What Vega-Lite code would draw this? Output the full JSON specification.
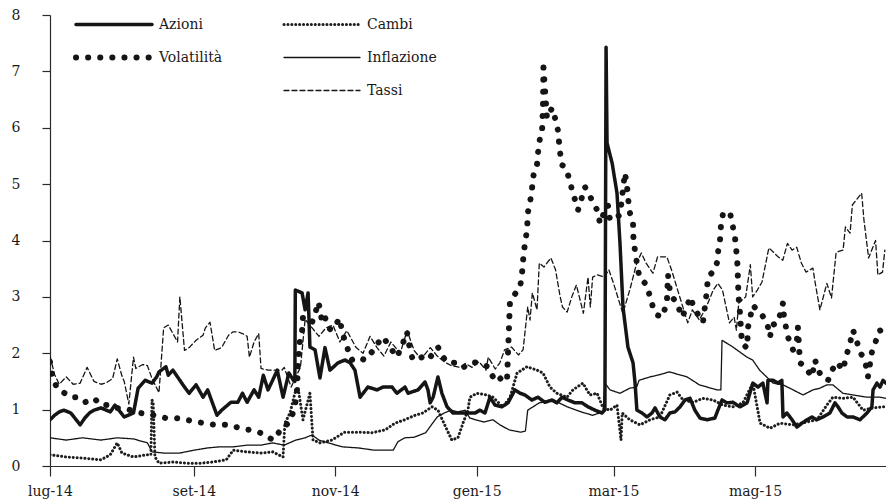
{
"$schema":"https://vega.github.io/schema/vega-lite/v6.json",
"width":836,"height":451,
"autosize":{"type":"none"},
"padding":{"left":50,"top":15,"right":0,"bottom":37},
"background":"white",
"config":{"view":{"stroke":null},"font":"DejaVu Serif",
 "axis":{"grid":false,"title":null,"domainColor":"#2b2b2b","tickColor":"#2b2b2b","labelColor":"#1a1a1a","labelFont":"DejaVu Serif","labelFontSize":14,"domainWidth":1.2,"tickWidth":1.2}},
"data":{"values":[
{"s":"Cambi","d":"2014-07-01","v":0.2},{"s":"Cambi","d":"2014-07-08","v":0.16},{"s":"Cambi","d":"2014-07-15","v":0.14},{"s":"Cambi","d":"2014-07-23","v":0.11},{"s":"Cambi","d":"2014-07-27","v":0.2},{"s":"Cambi","d":"2014-07-30","v":0.41},{"s":"Cambi","d":"2014-08-01","v":0.23},{"s":"Cambi","d":"2014-08-06","v":0.16},{"s":"Cambi","d":"2014-08-12","v":0.2},{"s":"Cambi","d":"2014-08-13T12:00Z","v":0.2},{"s":"Cambi","d":"2014-08-14","v":1.17},{"s":"Cambi","d":"2014-08-14T12:00Z","v":1.1},{"s":"Cambi","d":"2014-08-15T06:00Z","v":0.16},{"s":"Cambi","d":"2014-08-17","v":0.05},{"s":"Cambi","d":"2014-08-23","v":0.07},{"s":"Cambi","d":"2014-08-29","v":0.05},{"s":"Cambi","d":"2014-09-04","v":0.05},{"s":"Cambi","d":"2014-09-09","v":0.07},{"s":"Cambi","d":"2014-09-15","v":0.11},{"s":"Cambi","d":"2014-09-18","v":0.28},{"s":"Cambi","d":"2014-09-24","v":0.25},{"s":"Cambi","d":"2014-09-30","v":0.23},{"s":"Cambi","d":"2014-10-05","v":0.25},{"s":"Cambi","d":"2014-10-09T12:00Z","v":0.16},{"s":"Cambi","d":"2014-10-10T07:00Z","v":0.76},{"s":"Cambi","d":"2014-10-12T12:00Z","v":0.94},{"s":"Cambi","d":"2014-10-14T14:00Z","v":1.29},{"s":"Cambi","d":"2014-10-15T22:00Z","v":1.4},{"s":"Cambi","d":"2014-10-18T02:00Z","v":0.82},{"s":"Cambi","d":"2014-10-21T02:00Z","v":1.29},{"s":"Cambi","d":"2014-10-22T10:00Z","v":0.46},{"s":"Cambi","d":"2014-10-25T10:00Z","v":0.41},{"s":"Cambi","d":"2014-10-30T14:00Z","v":0.46},{"s":"Cambi","d":"2014-11-05","v":0.6},{"s":"Cambi","d":"2014-11-10T19:00Z","v":0.6},{"s":"Cambi","d":"2014-11-16T19:00Z","v":0.59},{"s":"Cambi","d":"2014-11-22T12:00Z","v":0.64},{"s":"Cambi","d":"2014-11-26T19:00Z","v":0.76},{"s":"Cambi","d":"2014-12-01","v":0.82},{"s":"Cambi","d":"2014-12-05T10:00Z","v":0.9},{"s":"Cambi","d":"2014-12-08T19:00Z","v":0.94},{"s":"Cambi","d":"2014-12-12T17:00Z","v":1.05},{"s":"Cambi","d":"2014-12-15T07:00Z","v":0.99},{"s":"Cambi","d":"2014-12-19T05:00Z","v":0.64},{"s":"Cambi","d":"2014-12-21T07:00Z","v":0.46},{"s":"Cambi","d":"2014-12-23T22:00Z","v":0.5},{"s":"Cambi","d":"2014-12-26T02:00Z","v":0.76},{"s":"Cambi","d":"2014-12-28T05:00Z","v":0.99},{"s":"Cambi","d":"2014-12-29T02:00Z","v":1.22},{"s":"Cambi","d":"2015-01-01T02:00Z","v":1.29},{"s":"Cambi","d":"2015-01-05T10:00Z","v":1.26},{"s":"Cambi","d":"2015-01-08","v":1.22},{"s":"Cambi","d":"2015-01-12T07:00Z","v":1.05},{"s":"Cambi","d":"2015-01-15T10:00Z","v":1.22},{"s":"Cambi","d":"2015-01-18T10:00Z","v":1.65},{"s":"Cambi","d":"2015-01-22T17:00Z","v":1.76},{"s":"Cambi","d":"2015-01-27","v":1.7},{"s":"Cambi","d":"2015-01-29T14:00Z","v":1.65},{"s":"Cambi","d":"2015-02-01T14:00Z","v":1.4},{"s":"Cambi","d":"2015-02-04T14:00Z","v":1.29},{"s":"Cambi","d":"2015-02-08T22:00Z","v":1.22},{"s":"Cambi","d":"2015-02-11T12:00Z","v":1.35},{"s":"Cambi","d":"2015-02-15T19:00Z","v":1.47},{"s":"Cambi","d":"2015-02-18T19:00Z","v":1.26},{"s":"Cambi","d":"2015-02-21T22:00Z","v":1.29},{"s":"Cambi","d":"2015-02-24T12:00Z","v":1.03},{"s":"Cambi","d":"2015-02-27T12:00Z","v":0.99},{"s":"Cambi","d":"2015-03-02T12:00Z","v":1.08},{"s":"Cambi","d":"2015-03-04T06:00Z","v":0.46},{"s":"Cambi","d":"2015-03-04T18:00Z","v":0.94},{"s":"Cambi","d":"2015-03-08","v":0.82},{"s":"Cambi","d":"2015-03-12T10:00Z","v":0.73},{"s":"Cambi","d":"2015-03-16T17:00Z","v":0.82},{"s":"Cambi","d":"2015-03-21","v":0.87},{"s":"Cambi","d":"2015-03-25T07:00Z","v":1.26},{"s":"Cambi","d":"2015-03-28T10:00Z","v":1.31},{"s":"Cambi","d":"2015-03-31","v":1.17},{"s":"Cambi","d":"2015-04-04T07:00Z","v":1.13},{"s":"Cambi","d":"2015-04-08T14:00Z","v":1.2},{"s":"Cambi","d":"2015-04-12T22:00Z","v":1.17},{"s":"Cambi","d":"2015-04-17T05:00Z","v":1.08},{"s":"Cambi","d":"2015-04-21T12:00Z","v":1.05},{"s":"Cambi","d":"2015-04-25T19:00Z","v":1.12},{"s":"Cambi","d":"2015-04-30T02:00Z","v":1.47},{"s":"Cambi","d":"2015-05-03T05:00Z","v":0.76},{"s":"Cambi","d":"2015-05-07T12:00Z","v":0.67},{"s":"Cambi","d":"2015-05-11T19:00Z","v":0.76},{"s":"Cambi","d":"2015-05-17T10:00Z","v":0.73},{"s":"Cambi","d":"2015-05-23T10:00Z","v":0.78},{"s":"Cambi","d":"2015-05-27T17:00Z","v":0.82},{"s":"Cambi","d":"2015-06-01","v":1.08},{"s":"Cambi","d":"2015-06-03T14:00Z","v":1.22},{"s":"Cambi","d":"2015-06-07T22:00Z","v":1.2},{"s":"Cambi","d":"2015-06-12T07:00Z","v":1.22},{"s":"Cambi","d":"2015-06-16T14:00Z","v":0.99},{"s":"Cambi","d":"2015-06-20T22:00Z","v":1.03},{"s":"Cambi","d":"2015-06-25T05:00Z","v":1.05},{"s":"Cambi","d":"2015-06-26T12:00Z","v":1.05},
{"s":"Inflazione","d":"2014-07-01","v":0.5},{"s":"Inflazione","d":"2014-07-08","v":0.46},{"s":"Inflazione","d":"2014-07-15","v":0.5},{"s":"Inflazione","d":"2014-07-23","v":0.46},{"s":"Inflazione","d":"2014-07-30","v":0.5},{"s":"Inflazione","d":"2014-08-06","v":0.48},{"s":"Inflazione","d":"2014-08-12","v":0.41},{"s":"Inflazione","d":"2014-08-14","v":0.25},{"s":"Inflazione","d":"2014-08-19","v":0.23},{"s":"Inflazione","d":"2014-08-26","v":0.23},{"s":"Inflazione","d":"2014-09-01","v":0.28},{"s":"Inflazione","d":"2014-09-07","v":0.32},{"s":"Inflazione","d":"2014-09-12","v":0.34},{"s":"Inflazione","d":"2014-09-18","v":0.34},{"s":"Inflazione","d":"2014-09-24","v":0.37},{"s":"Inflazione","d":"2014-09-30","v":0.37},{"s":"Inflazione","d":"2014-10-05","v":0.41},{"s":"Inflazione","d":"2014-10-10","v":0.37},{"s":"Inflazione","d":"2014-10-15","v":0.46},{"s":"Inflazione","d":"2014-10-19","v":0.5},{"s":"Inflazione","d":"2014-10-22","v":0.55},{"s":"Inflazione","d":"2014-10-25","v":0.46},{"s":"Inflazione","d":"2014-10-29","v":0.41},{"s":"Inflazione","d":"2014-11-04","v":0.34},{"s":"Inflazione","d":"2014-11-11","v":0.32},{"s":"Inflazione","d":"2014-11-18","v":0.28},{"s":"Inflazione","d":"2014-11-26","v":0.28},{"s":"Inflazione","d":"2014-11-28","v":0.43},{"s":"Inflazione","d":"2014-12-01","v":0.5},{"s":"Inflazione","d":"2014-12-05","v":0.51},{"s":"Inflazione","d":"2014-12-10","v":0.59},{"s":"Inflazione","d":"2014-12-13","v":0.76},{"s":"Inflazione","d":"2014-12-15","v":0.87},{"s":"Inflazione","d":"2014-12-18","v":0.94},{"s":"Inflazione","d":"2014-12-21","v":0.99},{"s":"Inflazione","d":"2014-12-24","v":0.96},{"s":"Inflazione","d":"2014-12-27","v":0.99},{"s":"Inflazione","d":"2014-12-29","v":0.85},{"s":"Inflazione","d":"2015-01-04","v":0.78},{"s":"Inflazione","d":"2015-01-08","v":0.82},{"s":"Inflazione","d":"2015-01-11","v":0.73},{"s":"Inflazione","d":"2015-01-15","v":0.64},{"s":"Inflazione","d":"2015-01-20","v":0.6},{"s":"Inflazione","d":"2015-01-22","v":0.62},{"s":"Inflazione","d":"2015-01-23","v":0.99},{"s":"Inflazione","d":"2015-01-28","v":1.12},{"s":"Inflazione","d":"2015-02-03","v":1.17},{"s":"Inflazione","d":"2015-02-09","v":1.05},{"s":"Inflazione","d":"2015-02-15","v":0.96},{"s":"Inflazione","d":"2015-02-20","v":0.9},{"s":"Inflazione","d":"2015-02-24T12:00Z","v":0.96},{"s":"Inflazione","d":"2015-02-25T07:00Z","v":1.47},{"s":"Inflazione","d":"2015-02-27T12:00Z","v":1.35},{"s":"Inflazione","d":"2015-03-03T19:00Z","v":1.29},{"s":"Inflazione","d":"2015-03-08","v":1.38},{"s":"Inflazione","d":"2015-03-11","v":1.4},{"s":"Inflazione","d":"2015-03-12","v":1.52},{"s":"Inflazione","d":"2015-03-16T17:00Z","v":1.58},{"s":"Inflazione","d":"2015-03-21","v":1.62},{"s":"Inflazione","d":"2015-03-25","v":1.67},{"s":"Inflazione","d":"2015-04-01T17:00Z","v":1.58},{"s":"Inflazione","d":"2015-04-07","v":1.44},{"s":"Inflazione","d":"2015-04-14T14:00Z","v":1.35},{"s":"Inflazione","d":"2015-04-16T07:00Z","v":1.35},{"s":"Inflazione","d":"2015-04-16T19:00Z","v":2.23},{"s":"Inflazione","d":"2015-04-21T12:00Z","v":2.11},{"s":"Inflazione","d":"2015-04-27T14:00Z","v":1.93},{"s":"Inflazione","d":"2015-04-30","v":1.88},{"s":"Inflazione","d":"2015-05-03","v":1.7},{"s":"Inflazione","d":"2015-05-08T19:00Z","v":1.47},{"s":"Inflazione","d":"2015-05-13","v":1.44},{"s":"Inflazione","d":"2015-05-16","v":1.38},{"s":"Inflazione","d":"2015-05-21T17:00Z","v":1.26},{"s":"Inflazione","d":"2015-05-26","v":1.35},{"s":"Inflazione","d":"2015-05-29","v":1.38},{"s":"Inflazione","d":"2015-06-01","v":1.44},{"s":"Inflazione","d":"2015-06-03T14:00Z","v":1.44},{"s":"Inflazione","d":"2015-06-07T22:00Z","v":1.29},{"s":"Inflazione","d":"2015-06-12T07:00Z","v":1.26},{"s":"Inflazione","d":"2015-06-18T07:00Z","v":1.22},{"s":"Inflazione","d":"2015-06-23T22:00Z","v":1.22},{"s":"Inflazione","d":"2015-06-26T12:00Z","v":1.2},
{"s":"Tassi","d":"2014-07-01","v":1.95},{"s":"Tassi","d":"2014-07-03","v":1.62},{"s":"Tassi","d":"2014-07-05","v":1.45},{"s":"Tassi","d":"2014-07-08","v":1.58},{"s":"Tassi","d":"2014-07-11","v":1.45},{"s":"Tassi","d":"2014-07-14","v":1.47},{"s":"Tassi","d":"2014-07-17","v":1.75},{"s":"Tassi","d":"2014-07-20","v":1.5},{"s":"Tassi","d":"2014-07-23","v":1.45},{"s":"Tassi","d":"2014-07-25","v":1.47},{"s":"Tassi","d":"2014-07-28","v":1.55},{"s":"Tassi","d":"2014-07-30","v":1.9},{"s":"Tassi","d":"2014-08-01","v":1.6},{"s":"Tassi","d":"2014-08-02","v":1.5},{"s":"Tassi","d":"2014-08-04","v":1.1},{"s":"Tassi","d":"2014-08-06","v":1.93},{"s":"Tassi","d":"2014-08-07","v":1.73},{"s":"Tassi","d":"2014-08-10","v":1.8},{"s":"Tassi","d":"2014-08-12","v":1.78},{"s":"Tassi","d":"2014-08-14","v":1.55},{"s":"Tassi","d":"2014-08-17","v":1.3},{"s":"Tassi","d":"2014-08-19","v":2.45},{"s":"Tassi","d":"2014-08-21","v":2.5},{"s":"Tassi","d":"2014-08-23","v":2.35},{"s":"Tassi","d":"2014-08-25","v":2.2},{"s":"Tassi","d":"2014-08-26","v":3.0},{"s":"Tassi","d":"2014-08-28","v":2.05},{"s":"Tassi","d":"2014-08-30","v":2.1},{"s":"Tassi","d":"2014-09-02","v":2.23},{"s":"Tassi","d":"2014-09-05","v":2.32},{"s":"Tassi","d":"2014-09-06","v":2.45},{"s":"Tassi","d":"2014-09-08","v":2.55},{"s":"Tassi","d":"2014-09-10","v":2.05},{"s":"Tassi","d":"2014-09-13","v":2.1},{"s":"Tassi","d":"2014-09-16","v":2.32},{"s":"Tassi","d":"2014-09-18","v":2.38},{"s":"Tassi","d":"2014-09-20","v":2.38},{"s":"Tassi","d":"2014-09-22","v":2.35},{"s":"Tassi","d":"2014-09-24","v":2.3},{"s":"Tassi","d":"2014-09-25","v":1.93},{"s":"Tassi","d":"2014-09-27","v":2.2},{"s":"Tassi","d":"2014-09-29","v":2.35},{"s":"Tassi","d":"2014-09-30","v":1.73},{"s":"Tassi","d":"2014-10-03","v":1.7},{"s":"Tassi","d":"2014-10-06","v":1.7},{"s":"Tassi","d":"2014-10-09","v":1.7},{"s":"Tassi","d":"2014-10-10","v":1.75},{"s":"Tassi","d":"2014-10-13","v":1.4},{"s":"Tassi","d":"2014-10-15","v":1.58},{"s":"Tassi","d":"2014-10-17","v":1.75},{"s":"Tassi","d":"2014-10-19","v":2.6},{"s":"Tassi","d":"2014-10-21","v":2.5},{"s":"Tassi","d":"2014-10-25","v":2.3},{"s":"Tassi","d":"2014-10-28","v":2.45},{"s":"Tassi","d":"2014-10-31","v":2.5},{"s":"Tassi","d":"2014-11-03","v":2.2},{"s":"Tassi","d":"2014-11-06","v":2.4},{"s":"Tassi","d":"2014-11-10","v":2.1},{"s":"Tassi","d":"2014-11-13","v":2.0},{"s":"Tassi","d":"2014-11-16","v":2.3},{"s":"Tassi","d":"2014-11-19","v":2.1},{"s":"Tassi","d":"2014-11-22","v":1.95},{"s":"Tassi","d":"2014-11-25","v":2.2},{"s":"Tassi","d":"2014-11-29","v":2.0},{"s":"Tassi","d":"2014-12-02","v":2.4},{"s":"Tassi","d":"2014-12-05","v":2.05},{"s":"Tassi","d":"2014-12-08","v":1.9},{"s":"Tassi","d":"2014-12-12","v":2.1},{"s":"Tassi","d":"2014-12-15","v":1.95},{"s":"Tassi","d":"2014-12-18","v":1.85},{"s":"Tassi","d":"2014-12-21","v":1.78},{"s":"Tassi","d":"2014-12-25","v":1.75},{"s":"Tassi","d":"2014-12-27","v":1.82},{"s":"Tassi","d":"2014-12-30","v":1.75},{"s":"Tassi","d":"2015-01-02","v":1.85},{"s":"Tassi","d":"2015-01-05","v":1.7},{"s":"Tassi","d":"2015-01-06","v":1.93},{"s":"Tassi","d":"2015-01-09","v":1.72},{"s":"Tassi","d":"2015-01-11","v":1.83},{"s":"Tassi","d":"2015-01-13","v":2.06},{"s":"Tassi","d":"2015-01-16","v":2.11},{"s":"Tassi","d":"2015-01-19","v":1.97},{"s":"Tassi","d":"2015-01-21","v":2.06},{"s":"Tassi","d":"2015-01-23","v":2.82},{"s":"Tassi","d":"2015-01-24","v":2.59},{"s":"Tassi","d":"2015-01-25","v":3.07},{"s":"Tassi","d":"2015-01-27","v":2.77},{"s":"Tassi","d":"2015-01-28","v":3.6},{"s":"Tassi","d":"2015-01-30","v":3.53},{"s":"Tassi","d":"2015-02-02","v":3.69},{"s":"Tassi","d":"2015-02-04","v":3.48},{"s":"Tassi","d":"2015-02-06","v":3.0},{"s":"Tassi","d":"2015-02-07","v":2.82},{"s":"Tassi","d":"2015-02-09","v":2.73},{"s":"Tassi","d":"2015-02-11","v":3.0},{"s":"Tassi","d":"2015-02-13","v":3.21},{"s":"Tassi","d":"2015-02-16","v":2.71},{"s":"Tassi","d":"2015-02-18","v":3.35},{"s":"Tassi","d":"2015-02-19","v":2.82},{"s":"Tassi","d":"2015-02-20","v":3.35},{"s":"Tassi","d":"2015-02-22","v":3.39},{"s":"Tassi","d":"2015-02-25","v":3.35},{"s":"Tassi","d":"2015-02-27","v":3.48},{"s":"Tassi","d":"2015-03-01","v":3.24},{"s":"Tassi","d":"2015-03-05","v":2.71},{"s":"Tassi","d":"2015-03-08","v":3.12},{"s":"Tassi","d":"2015-03-11","v":3.6},{"s":"Tassi","d":"2015-03-13","v":3.78},{"s":"Tassi","d":"2015-03-15","v":3.6},{"s":"Tassi","d":"2015-03-18","v":3.42},{"s":"Tassi","d":"2015-03-20","v":3.71},{"s":"Tassi","d":"2015-03-24","v":3.71},{"s":"Tassi","d":"2015-03-26","v":3.48},{"s":"Tassi","d":"2015-03-30","v":2.94},{"s":"Tassi","d":"2015-04-02","v":2.54},{"s":"Tassi","d":"2015-04-04","v":2.77},{"s":"Tassi","d":"2015-04-07","v":2.59},{"s":"Tassi","d":"2015-04-10","v":2.82},{"s":"Tassi","d":"2015-04-13","v":3.12},{"s":"Tassi","d":"2015-04-15","v":3.24},{"s":"Tassi","d":"2015-04-17","v":3.12},{"s":"Tassi","d":"2015-04-20","v":2.54},{"s":"Tassi","d":"2015-04-22","v":2.64},{"s":"Tassi","d":"2015-04-23","v":2.41},{"s":"Tassi","d":"2015-04-24","v":2.89},{"s":"Tassi","d":"2015-04-27","v":3.0},{"s":"Tassi","d":"2015-04-29","v":3.57},{"s":"Tassi","d":"2015-04-30","v":3.0},{"s":"Tassi","d":"2015-05-02","v":3.12},{"s":"Tassi","d":"2015-05-04","v":3.26},{"s":"Tassi","d":"2015-05-07","v":3.87},{"s":"Tassi","d":"2015-05-09","v":3.79},{"s":"Tassi","d":"2015-05-11","v":3.71},{"s":"Tassi","d":"2015-05-13","v":3.65},{"s":"Tassi","d":"2015-05-15","v":3.95},{"s":"Tassi","d":"2015-05-17","v":3.83},{"s":"Tassi","d":"2015-05-19","v":3.88},{"s":"Tassi","d":"2015-05-21","v":3.6},{"s":"Tassi","d":"2015-05-23","v":3.44},{"s":"Tassi","d":"2015-05-26","v":3.51},{"s":"Tassi","d":"2015-05-27","v":3.24},{"s":"Tassi","d":"2015-05-29","v":2.77},{"s":"Tassi","d":"2015-06-01","v":3.24},{"s":"Tassi","d":"2015-06-03","v":2.98},{"s":"Tassi","d":"2015-06-05","v":3.79},{"s":"Tassi","d":"2015-06-08","v":3.83},{"s":"Tassi","d":"2015-06-09","v":4.24},{"s":"Tassi","d":"2015-06-11","v":4.13},{"s":"Tassi","d":"2015-06-12","v":4.63},{"s":"Tassi","d":"2015-06-16","v":4.84},{"s":"Tassi","d":"2015-06-17","v":4.36},{"s":"Tassi","d":"2015-06-19","v":3.69},{"s":"Tassi","d":"2015-06-22","v":4.0},{"s":"Tassi","d":"2015-06-23","v":3.39},{"s":"Tassi","d":"2015-06-25","v":3.44},{"s":"Tassi","d":"2015-06-26","v":3.83},
{"s":"Volatilità","d":"2014-07-01","v":1.85},{"s":"Volatilità","d":"2014-07-02","v":1.6},{"s":"Volatilità","d":"2014-07-04","v":1.38},{"s":"Volatilità","d":"2014-07-07","v":1.3},{"s":"Volatilità","d":"2014-07-10","v":1.22},{"s":"Volatilità","d":"2014-07-13","v":1.22},{"s":"Volatilità","d":"2014-07-16","v":1.13},{"s":"Volatilità","d":"2014-07-20","v":1.2},{"s":"Volatilità","d":"2014-07-23","v":1.08},{"s":"Volatilità","d":"2014-07-27","v":1.08},{"s":"Volatilità","d":"2014-07-30","v":1.03},{"s":"Volatilità","d":"2014-08-02","v":1.0},{"s":"Volatilità","d":"2014-08-04","v":1.0},{"s":"Volatilità","d":"2014-08-09","v":0.94},{"s":"Volatilità","d":"2014-08-15","v":0.9},{"s":"Volatilità","d":"2014-08-20","v":0.85},{"s":"Volatilità","d":"2014-08-24","v":0.85},{"s":"Volatilità","d":"2014-08-28","v":0.83},{"s":"Volatilità","d":"2014-09-02","v":0.78},{"s":"Volatilità","d":"2014-09-06","v":0.76},{"s":"Volatilità","d":"2014-09-10","v":0.73},{"s":"Volatilità","d":"2014-09-16","v":0.73},{"s":"Volatilità","d":"2014-09-21","v":0.67},{"s":"Volatilità","d":"2014-09-25","v":0.64},{"s":"Volatilità","d":"2014-09-29","v":0.6},{"s":"Volatilità","d":"2014-10-02","v":0.55},{"s":"Volatilità","d":"2014-10-05","v":0.46},{"s":"Volatilità","d":"2014-10-07","v":0.55},{"s":"Volatilità","d":"2014-10-09","v":0.69},{"s":"Volatilità","d":"2014-10-12","v":0.76},{"s":"Volatilità","d":"2014-10-13T10:00Z","v":0.9},{"s":"Volatilità","d":"2014-10-14T14:00Z","v":1.05},{"s":"Volatilità","d":"2014-10-15T12:00Z","v":1.35},{"s":"Volatilità","d":"2014-10-15T22:00Z","v":1.82},{"s":"Volatilità","d":"2014-10-16T19:00Z","v":2.23},{"s":"Volatilità","d":"2014-10-17T17:00Z","v":2.4},{"s":"Volatilità","d":"2014-10-18T02:00Z","v":2.64},{"s":"Volatilità","d":"2014-10-22","v":2.55},{"s":"Volatilità","d":"2014-10-23T07:00Z","v":2.68},{"s":"Volatilità","d":"2014-10-24T14:00Z","v":2.91},{"s":"Volatilità","d":"2014-10-25T10:00Z","v":2.8},{"s":"Volatilità","d":"2014-10-26T07:00Z","v":2.55},{"s":"Volatilità","d":"2014-10-27T14:00Z","v":2.64},{"s":"Volatilità","d":"2014-10-28T22:00Z","v":2.45},{"s":"Volatilità","d":"2014-10-30T14:00Z","v":2.41},{"s":"Volatilità","d":"2014-11-03","v":2.62},{"s":"Volatilità","d":"2014-11-03T22:00Z","v":2.38},{"s":"Volatilità","d":"2014-11-06T12:00Z","v":2.06},{"s":"Volatilità","d":"2014-11-08","v":1.88},{"s":"Volatilità","d":"2014-11-10T19:00Z","v":1.93},{"s":"Volatilità","d":"2014-11-13T19:00Z","v":1.88},{"s":"Volatilità","d":"2014-11-16T19:00Z","v":2.02},{"s":"Volatilità","d":"2014-11-19T10:00Z","v":2.18},{"s":"Volatilità","d":"2014-11-21T14:00Z","v":2.29},{"s":"Volatilità","d":"2014-11-24T14:00Z","v":2.11},{"s":"Volatilità","d":"2014-11-27T14:00Z","v":1.93},{"s":"Volatilità","d":"2014-11-30T05:00Z","v":2.18},{"s":"Volatilità","d":"2014-12-01T22:00Z","v":2.38},{"s":"Volatilità","d":"2014-12-03T05:00Z","v":2.06},{"s":"Volatilità","d":"2014-12-04T12:00Z","v":1.88},{"s":"Volatilità","d":"2014-12-08T10:00Z","v":1.93},{"s":"Volatilità","d":"2014-12-11","v":1.88},{"s":"Volatilità","d":"2014-12-15T07:00Z","v":2.11},{"s":"Volatilità","d":"2014-12-17T12:00Z","v":1.93},{"s":"Volatilità","d":"2014-12-19T14:00Z","v":1.83},{"s":"Volatilità","d":"2014-12-22T14:00Z","v":1.83},{"s":"Volatilità","d":"2014-12-25T17:00Z","v":1.74},{"s":"Volatilità","d":"2014-12-28T05:00Z","v":1.79},{"s":"Volatilità","d":"2014-12-30","v":1.84},{"s":"Volatilità","d":"2015-01-01T14:00Z","v":1.83},{"s":"Volatilità","d":"2015-01-05T22:00Z","v":1.76},{"s":"Volatilità","d":"2015-01-07T14:00Z","v":1.61},{"s":"Volatilità","d":"2015-01-09T17:00Z","v":1.49},{"s":"Volatilità","d":"2015-01-11T22:00Z","v":1.58},{"s":"Volatilità","d":"2015-01-14T02:00Z","v":1.52},{"s":"Volatilità","d":"2015-01-14T12:00Z","v":2.0},{"s":"Volatilità","d":"2015-01-15T09:00Z","v":2.94},{"s":"Volatilità","d":"2015-01-17T12:00Z","v":3.05},{"s":"Volatilità","d":"2015-01-19T16:00Z","v":3.16},{"s":"Volatilità","d":"2015-01-20T12:00Z","v":3.39},{"s":"Volatilità","d":"2015-01-21","v":3.65},{"s":"Volatilità","d":"2015-01-21T19:00Z","v":3.95},{"s":"Volatilità","d":"2015-01-22T17:00Z","v":4.18},{"s":"Volatilità","d":"2015-01-23T02:00Z","v":4.5},{"s":"Volatilità","d":"2015-01-24","v":4.68},{"s":"Volatilità","d":"2015-01-24T19:00Z","v":4.89},{"s":"Volatilità","d":"2015-01-25T07:00Z","v":5.12},{"s":"Volatilità","d":"2015-01-26T02:00Z","v":5.25},{"s":"Volatilità","d":"2015-01-27","v":5.34},{"s":"Volatilità","d":"2015-01-27T10:00Z","v":5.55},{"s":"Volatilità","d":"2015-01-28T07:00Z","v":5.82},{"s":"Volatilità","d":"2015-01-29T05:00Z","v":5.96},{"s":"Volatilità","d":"2015-01-29T14:00Z","v":6.4},{"s":"Volatilità","d":"2015-01-29T19:00Z","v":7.07},{"s":"Volatilità","d":"2015-01-31T07:00Z","v":6.17},{"s":"Volatilità","d":"2015-02-02T12:00Z","v":6.35},{"s":"Volatilità","d":"2015-02-03T19:00Z","v":6.17},{"s":"Volatilità","d":"2015-02-05","v":5.96},{"s":"Volatilità","d":"2015-02-05T22:00Z","v":5.57},{"s":"Volatilità","d":"2015-02-06T19:00Z","v":5.34},{"s":"Volatilità","d":"2015-02-08T02:00Z","v":5.3},{"s":"Volatilità","d":"2015-02-10T05:00Z","v":5.07},{"s":"Volatilità","d":"2015-02-11T02:00Z","v":4.89},{"s":"Volatilità","d":"2015-02-12T10:00Z","v":4.72},{"s":"Volatilità","d":"2015-02-13T17:00Z","v":4.54},{"s":"Volatilità","d":"2015-02-16T17:00Z","v":4.95},{"s":"Volatilità","d":"2015-02-18","v":4.84},{"s":"Volatilità","d":"2015-02-19T17:00Z","v":4.72},{"s":"Volatilità","d":"2015-02-21T22:00Z","v":4.54},{"s":"Volatilità","d":"2015-02-23T05:00Z","v":4.3},{"s":"Volatilità","d":"2015-02-25T07:00Z","v":4.54},{"s":"Volatilità","d":"2015-02-26T14:00Z","v":4.63},{"s":"Volatilità","d":"2015-02-27T12:00Z","v":4.36},{"s":"Volatilità","d":"2015-03-01T14:00Z","v":4.4},{"s":"Volatilità","d":"2015-03-03T19:00Z","v":4.45},{"s":"Volatilità","d":"2015-03-05T22:00Z","v":5.2},{"s":"Volatilità","d":"2015-03-06T19:00Z","v":4.98},{"s":"Volatilità","d":"2015-03-07T05:00Z","v":4.77},{"s":"Volatilità","d":"2015-03-08","v":4.5},{"s":"Volatilità","d":"2015-03-09T10:00Z","v":4.3},{"s":"Volatilità","d":"2015-03-09T14:00Z","v":4.06},{"s":"Volatilità","d":"2015-03-10T05:00Z","v":3.83},{"s":"Volatilità","d":"2015-03-11T02:00Z","v":3.6},{"s":"Volatilità","d":"2015-03-11T12:00Z","v":3.48},{"s":"Volatilità","d":"2015-03-12T10:00Z","v":3.33},{"s":"Volatilità","d":"2015-03-15T10:00Z","v":3.21},{"s":"Volatilità","d":"2015-03-16T17:00Z","v":3.0},{"s":"Volatilità","d":"2015-03-18","v":2.82},{"s":"Volatilità","d":"2015-03-19T17:00Z","v":2.68},{"s":"Volatilità","d":"2015-03-21T22:00Z","v":2.64},{"s":"Volatilità","d":"2015-03-24","v":2.89},{"s":"Volatilità","d":"2015-03-24T12:00Z","v":3.39},{"s":"Volatilità","d":"2015-03-25T07:00Z","v":3.12},{"s":"Volatilità","d":"2015-03-26T05:00Z","v":3.0},{"s":"Volatilità","d":"2015-03-28T10:00Z","v":2.89},{"s":"Volatilità","d":"2015-03-30T12:00Z","v":2.64},{"s":"Volatilità","d":"2015-04-01T17:00Z","v":2.82},{"s":"Volatilità","d":"2015-04-03","v":3.0},{"s":"Volatilità","d":"2015-04-05T02:00Z","v":2.77},{"s":"Volatilità","d":"2015-04-07T07:00Z","v":2.64},{"s":"Volatilità","d":"2015-04-08T14:00Z","v":2.55},{"s":"Volatilità","d":"2015-04-10T07:00Z","v":3.12},{"s":"Volatilità","d":"2015-04-10T17:00Z","v":3.35},{"s":"Volatilità","d":"2015-04-13T17:00Z","v":3.48},{"s":"Volatilità","d":"2015-04-14T14:00Z","v":3.6},{"s":"Volatilità","d":"2015-04-15","v":3.78},{"s":"Volatilità","d":"2015-04-15T22:00Z","v":4.0},{"s":"Volatilità","d":"2015-04-16T07:00Z","v":4.24},{"s":"Volatilità","d":"2015-04-17T05:00Z","v":4.48},{"s":"Volatilità","d":"2015-04-20T05:00Z","v":4.5},{"s":"Volatilità","d":"2015-04-21T12:00Z","v":4.24},{"s":"Volatilità","d":"2015-04-22T10:00Z","v":4.04},{"s":"Volatilità","d":"2015-04-23T05:00Z","v":3.71},{"s":"Volatilità","d":"2015-04-23T12:00Z","v":3.53},{"s":"Volatilità","d":"2015-04-23T17:00Z","v":3.24},{"s":"Volatilità","d":"2015-04-23T22:00Z","v":3.0},{"s":"Volatilità","d":"2015-04-24T12:00Z","v":2.73},{"s":"Volatilità","d":"2015-04-25","v":2.41},{"s":"Volatilità","d":"2015-04-25T10:00Z","v":2.18},{"s":"Volatilità","d":"2015-04-27T14:00Z","v":2.09},{"s":"Volatilità","d":"2015-04-28","v":2.46},{"s":"Volatilità","d":"2015-04-30T02:00Z","v":2.85},{"s":"Volatilità","d":"2015-05-04","v":2.68},{"s":"Volatilità","d":"2015-05-06T05:00Z","v":2.54},{"s":"Volatilità","d":"2015-05-07T12:00Z","v":2.29},{"s":"Volatilità","d":"2015-05-08T07:00Z","v":2.5},{"s":"Volatilità","d":"2015-05-10T22:00Z","v":2.54},{"s":"Volatilità","d":"2015-05-13T02:00Z","v":2.89},{"s":"Volatilità","d":"2015-05-13T12:00Z","v":2.64},{"s":"Volatilità","d":"2015-05-15T05:00Z","v":2.29},{"s":"Volatilità","d":"2015-05-17T10:00Z","v":2.06},{"s":"Volatilità","d":"2015-05-19T02:00Z","v":2.23},{"s":"Volatilità","d":"2015-05-19T12:00Z","v":2.46},{"s":"Volatilità","d":"2015-05-20T10:00Z","v":1.83},{"s":"Volatilità","d":"2015-05-22T14:00Z","v":1.76},{"s":"Volatilità","d":"2015-05-25T14:00Z","v":1.58},{"s":"Volatilità","d":"2015-05-26T22:00Z","v":1.88},{"s":"Volatilità","d":"2015-05-28T05:00Z","v":1.7},{"s":"Volatilità","d":"2015-05-29T22:00Z","v":1.58},{"s":"Volatilità","d":"2015-06-01T12:00Z","v":1.52},{"s":"Volatilità","d":"2015-06-03T05:00Z","v":1.7},{"s":"Volatilità","d":"2015-06-05T10:00Z","v":1.84},{"s":"Volatilità","d":"2015-06-07T22:00Z","v":1.7},{"s":"Volatilità","d":"2015-06-09T17:00Z","v":2.0},{"s":"Volatilità","d":"2015-06-11","v":2.18},{"s":"Volatilità","d":"2015-06-12T07:00Z","v":2.41},{"s":"Volatilità","d":"2015-06-14","v":2.2},{"s":"Volatilità","d":"2015-06-15T07:00Z","v":2.02},{"s":"Volatilità","d":"2015-06-17T10:00Z","v":1.88},{"s":"Volatilità","d":"2015-06-18T17:00Z","v":1.58},{"s":"Volatilità","d":"2015-06-20T10:00Z","v":2.02},{"s":"Volatilità","d":"2015-06-22T14:00Z","v":2.27},{"s":"Volatilità","d":"2015-06-23T22:00Z","v":2.41},{"s":"Volatilità","d":"2015-06-26T02:00Z","v":2.23},
{"s":"Azioni","d":"2014-07-01","v":0.82},{"s":"Azioni","d":"2014-07-03","v":0.9},{"s":"Azioni","d":"2014-07-05","v":0.96},{"s":"Azioni","d":"2014-07-07","v":0.99},{"s":"Azioni","d":"2014-07-10","v":0.94},{"s":"Azioni","d":"2014-07-14","v":0.73},{"s":"Azioni","d":"2014-07-16","v":0.85},{"s":"Azioni","d":"2014-07-18","v":0.94},{"s":"Azioni","d":"2014-07-20","v":0.99},{"s":"Azioni","d":"2014-07-23","v":1.03},{"s":"Azioni","d":"2014-07-27","v":0.96},{"s":"Azioni","d":"2014-07-29","v":1.08},{"s":"Azioni","d":"2014-08-02","v":0.87},{"s":"Azioni","d":"2014-08-06","v":0.94},{"s":"Azioni","d":"2014-08-08","v":1.38},{"s":"Azioni","d":"2014-08-11","v":1.52},{"s":"Azioni","d":"2014-08-14","v":1.47},{"s":"Azioni","d":"2014-08-16","v":1.58},{"s":"Azioni","d":"2014-08-17","v":1.67},{"s":"Azioni","d":"2014-08-20","v":1.76},{"s":"Azioni","d":"2014-08-21","v":1.61},{"s":"Azioni","d":"2014-08-23","v":1.7},{"s":"Azioni","d":"2014-08-26","v":1.52},{"s":"Azioni","d":"2014-08-28","v":1.4},{"s":"Azioni","d":"2014-08-30","v":1.29},{"s":"Azioni","d":"2014-09-02","v":1.44},{"s":"Azioni","d":"2014-09-05","v":1.22},{"s":"Azioni","d":"2014-09-07","v":1.35},{"s":"Azioni","d":"2014-09-11","v":0.9},{"s":"Azioni","d":"2014-09-13","v":0.99},{"s":"Azioni","d":"2014-09-17","v":1.13},{"s":"Azioni","d":"2014-09-20","v":1.13},{"s":"Azioni","d":"2014-09-22","v":1.29},{"s":"Azioni","d":"2014-09-24","v":1.13},{"s":"Azioni","d":"2014-09-27","v":1.35},{"s":"Azioni","d":"2014-09-29","v":1.22},{"s":"Azioni","d":"2014-10-01","v":1.61},{"s":"Azioni","d":"2014-10-03","v":1.35},{"s":"Azioni","d":"2014-10-05","v":1.52},{"s":"Azioni","d":"2014-10-07","v":1.7},{"s":"Azioni","d":"2014-10-09T12:00Z","v":1.22},{"s":"Azioni","d":"2014-10-12","v":1.65},{"s":"Azioni","d":"2014-10-14","v":1.52},{"s":"Azioni","d":"2014-10-14T14:00Z","v":1.5},{"s":"Azioni","d":"2014-10-14T19:00Z","v":3.12},{"s":"Azioni","d":"2014-10-17T17:00Z","v":3.07},{"s":"Azioni","d":"2014-10-19","v":2.77},{"s":"Azioni","d":"2014-10-20T07:00Z","v":3.07},{"s":"Azioni","d":"2014-10-21T02:00Z","v":2.11},{"s":"Azioni","d":"2014-10-23T07:00Z","v":2.06},{"s":"Azioni","d":"2014-10-25T10:00Z","v":1.56},{"s":"Azioni","d":"2014-10-27T14:00Z","v":2.1},{"s":"Azioni","d":"2014-10-29T17:00Z","v":1.7},{"s":"Azioni","d":"2014-11-02T05:00Z","v":1.83},{"s":"Azioni","d":"2014-11-05T05:00Z","v":1.88},{"s":"Azioni","d":"2014-11-07T10:00Z","v":1.83},{"s":"Azioni","d":"2014-11-09T12:00Z","v":1.7},{"s":"Azioni","d":"2014-11-11T17:00Z","v":1.22},{"s":"Azioni","d":"2014-11-15T02:00Z","v":1.4},{"s":"Azioni","d":"2014-11-19","v":1.35},{"s":"Azioni","d":"2014-11-21T14:00Z","v":1.4},{"s":"Azioni","d":"2014-11-25T12:00Z","v":1.4},{"s":"Azioni","d":"2014-11-27T14:00Z","v":1.29},{"s":"Azioni","d":"2014-12-01T02:00Z","v":1.4},{"s":"Azioni","d":"2014-12-02T10:00Z","v":1.29},{"s":"Azioni","d":"2014-12-06T17:00Z","v":1.35},{"s":"Azioni","d":"2014-12-09T17:00Z","v":1.49},{"s":"Azioni","d":"2014-12-11","v":1.35},{"s":"Azioni","d":"2014-12-11T22:00Z","v":1.12},{"s":"Azioni","d":"2014-12-13T05:00Z","v":1.22},{"s":"Azioni","d":"2014-12-15T07:00Z","v":1.58},{"s":"Azioni","d":"2014-12-17","v":1.29},{"s":"Azioni","d":"2014-12-19T05:00Z","v":1.05},{"s":"Azioni","d":"2014-12-21T19:00Z","v":0.94},{"s":"Azioni","d":"2014-12-25T17:00Z","v":0.94},{"s":"Azioni","d":"2014-12-29T02:00Z","v":0.94},{"s":"Azioni","d":"2014-12-31T07:00Z","v":0.94},{"s":"Azioni","d":"2015-01-02T10:00Z","v":0.99},{"s":"Azioni","d":"2015-01-04T14:00Z","v":0.94},{"s":"Azioni","d":"2015-01-06T17:00Z","v":1.22},{"s":"Azioni","d":"2015-01-08T22:00Z","v":1.08},{"s":"Azioni","d":"2015-01-11T22:00Z","v":1.05},{"s":"Azioni","d":"2015-01-14T12:00Z","v":1.12},{"s":"Azioni","d":"2015-01-17T12:00Z","v":1.35},{"s":"Azioni","d":"2015-01-19T17:00Z","v":1.29},{"s":"Azioni","d":"2015-01-21T19:00Z","v":1.26},{"s":"Azioni","d":"2015-01-24T19:00Z","v":1.17},{"s":"Azioni","d":"2015-01-27T10:00Z","v":1.22},{"s":"Azioni","d":"2015-01-30T10:00Z","v":1.13},{"s":"Azioni","d":"2015-02-02T12:00Z","v":1.17},{"s":"Azioni","d":"2015-02-04T14:00Z","v":1.12},{"s":"Azioni","d":"2015-02-06T19:00Z","v":1.22},{"s":"Azioni","d":"2015-02-09T10:00Z","v":1.17},{"s":"Azioni","d":"2015-02-12T10:00Z","v":1.12},{"s":"Azioni","d":"2015-02-15T10:00Z","v":1.12},{"s":"Azioni","d":"2015-02-18","v":1.05},{"s":"Azioni","d":"2015-02-21","v":0.99},{"s":"Azioni","d":"2015-02-24","v":0.94},{"s":"Azioni","d":"2015-02-25T07:00Z","v":1.0},{"s":"Azioni","d":"2015-02-25T19:00Z","v":7.43},{"s":"Azioni","d":"2015-02-26T05:00Z","v":5.73},{"s":"Azioni","d":"2015-02-28T10:00Z","v":5.37},{"s":"Azioni","d":"2015-03-02T12:00Z","v":4.84},{"s":"Azioni","d":"2015-03-03T19:00Z","v":3.95},{"s":"Azioni","d":"2015-03-05T02:00Z","v":2.82},{"s":"Azioni","d":"2015-03-07T05:00Z","v":2.11},{"s":"Azioni","d":"2015-03-09T10:00Z","v":1.83},{"s":"Azioni","d":"2015-03-10T07:00Z","v":1.47},{"s":"Azioni","d":"2015-03-11T02:00Z","v":0.99},{"s":"Azioni","d":"2015-03-13T07:00Z","v":0.94},{"s":"Azioni","d":"2015-03-15T10:00Z","v":0.87},{"s":"Azioni","d":"2015-03-17T14:00Z","v":0.94},{"s":"Azioni","d":"2015-03-18T22:00Z","v":1.03},{"s":"Azioni","d":"2015-03-21","v":0.87},{"s":"Azioni","d":"2015-03-23T05:00Z","v":0.82},{"s":"Azioni","d":"2015-03-25T07:00Z","v":0.94},{"s":"Azioni","d":"2015-03-27T12:00Z","v":0.96},{"s":"Azioni","d":"2015-03-29T17:00Z","v":1.05},{"s":"Azioni","d":"2015-03-31T19:00Z","v":1.17},{"s":"Azioni","d":"2015-04-03","v":1.2},{"s":"Azioni","d":"2015-04-05T02:00Z","v":0.99},{"s":"Azioni","d":"2015-04-07T07:00Z","v":0.85},{"s":"Azioni","d":"2015-04-10T07:00Z","v":0.82},{"s":"Azioni","d":"2015-04-13T17:00Z","v":0.85},{"s":"Azioni","d":"2015-04-15","v":0.99},{"s":"Azioni","d":"2015-04-16T19:00Z","v":1.17},{"s":"Azioni","d":"2015-04-18T22:00Z","v":1.12},{"s":"Azioni","d":"2015-04-21T12:00Z","v":1.13},{"s":"Azioni","d":"2015-04-24T12:00Z","v":1.05},{"s":"Azioni","d":"2015-04-27T14:00Z","v":1.12},{"s":"Azioni","d":"2015-04-30T02:00Z","v":1.47},{"s":"Azioni","d":"2015-05-02T07:00Z","v":1.4},{"s":"Azioni","d":"2015-05-04T10:00Z","v":1.47},{"s":"Azioni","d":"2015-05-06T05:00Z","v":1.12},{"s":"Azioni","d":"2015-05-06T14:00Z","v":1.52},{"s":"Azioni","d":"2015-05-08T19:00Z","v":1.52},{"s":"Azioni","d":"2015-05-10T22:00Z","v":1.47},{"s":"Azioni","d":"2015-05-12T14:00Z","v":1.52},{"s":"Azioni","d":"2015-05-13T02:00Z","v":0.87},{"s":"Azioni","d":"2015-05-14T19:00Z","v":0.94},{"s":"Azioni","d":"2015-05-17","v":0.82},{"s":"Azioni","d":"2015-05-19T02:00Z","v":0.69},{"s":"Azioni","d":"2015-05-21T07:00Z","v":0.76},{"s":"Azioni","d":"2015-05-23T10:00Z","v":0.82},{"s":"Azioni","d":"2015-05-25T14:00Z","v":0.87},{"s":"Azioni","d":"2015-05-27T17:00Z","v":0.82},{"s":"Azioni","d":"2015-05-30T07:00Z","v":0.87},{"s":"Azioni","d":"2015-06-02T07:00Z","v":0.94},{"s":"Azioni","d":"2015-06-04T12:00Z","v":1.12},{"s":"Azioni","d":"2015-06-05T19:00Z","v":1.05},{"s":"Azioni","d":"2015-06-07T12:00Z","v":0.94},{"s":"Azioni","d":"2015-06-09T17:00Z","v":0.87},{"s":"Azioni","d":"2015-06-12T07:00Z","v":0.87},{"s":"Azioni","d":"2015-06-15T07:00Z","v":0.82},{"s":"Azioni","d":"2015-06-18T07:00Z","v":0.94},{"s":"Azioni","d":"2015-06-20T10:00Z","v":1.05},{"s":"Azioni","d":"2015-06-20T22:00Z","v":1.35},{"s":"Azioni","d":"2015-06-22T14:00Z","v":1.47},{"s":"Azioni","d":"2015-06-23T22:00Z","v":1.4},{"s":"Azioni","d":"2015-06-25T05:00Z","v":1.52},{"s":"Azioni","d":"2015-06-26T12:00Z","v":1.47}
]},
"mark":{"type":"line","strokeCap":"round","strokeJoin":"round","clip":true},
"encoding":{
 "x":{"field":"d","type":"temporal",
  "scale":{"type":"utc","domain":[{"year":2014,"month":7,"date":1,"utc":true},{"year":2015,"month":6,"date":26,"hours":12,"utc":true}],"nice":false},
  "axis":{"values":[{"year":2014,"month":7,"date":1,"utc":true},{"year":2014,"month":9,"date":1,"utc":true},{"year":2014,"month":11,"date":1,"utc":true},{"year":2015,"month":1,"date":1,"utc":true},{"year":2015,"month":3,"date":1,"utc":true},{"year":2015,"month":5,"date":1,"utc":true}],
   "labelExpr":"['gen','feb','mar','apr','mag','giu','lug','ago','set','ott','nov','dic'][utcmonth(datum.value)] + '-' + utcFormat(datum.value, '%y')",
   "tickSize":10,"labelPadding":8,"labelFlush":false}},
 "y":{"field":"v","type":"quantitative","scale":{"domain":[0,8],"nice":false},
  "axis":{"values":[0,1,2,3,4,5,6,7,8],"tickSize":8,"labelPadding":22}},
 "color":{"field":"s","type":"nominal",
  "scale":{"domain":["Azioni","Volatilità"," ","Cambi","Inflazione","Tassi"],"range":["#151515","#151515","transparent","#1e1e1e","#151515","#151515"]},
  "legend":{"title":null,"orient":"none","legendX":23,"legendY":2,"columns":2,"columnPadding":58,"rowPadding":18,"clipHeight":15,
   "symbolType":"stroke","symbolSize":5776,"labelFont":"DejaVu Serif","labelFontSize":14,"labelColor":"#1a1a1a","labelOffset":4,"padding":0,
   "encode":{"symbols":{"update":{"strokeCap":{"value":"round"}}}}}},
 "strokeDash":{"field":"s","type":"nominal",
  "scale":{"domain":["Azioni","Volatilità"," ","Cambi","Inflazione","Tassi"],"range":[[1,0],[0.1,12],[1,0],[0.1,3.8],[1,0],[5,3]]}},
 "strokeWidth":{"field":"s","type":"nominal",
  "scale":{"type":"ordinal","domain":["Azioni","Volatilità"," ","Cambi","Inflazione","Tassi"],"range":[3.5,6,1,3,1.3,1.3]}}
}
}
